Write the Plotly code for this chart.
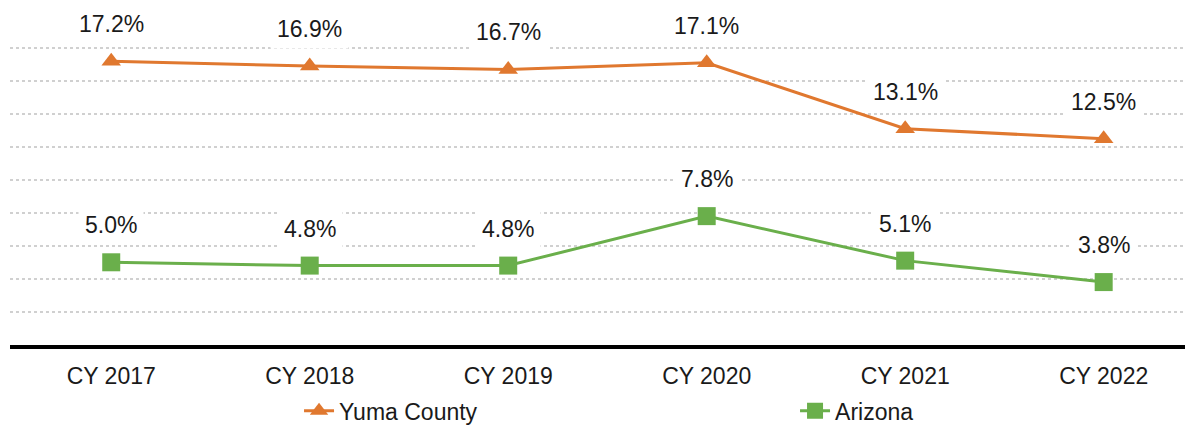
"""Yuma County vs Arizona - lijngrafiek met datalabels."""

import plotly.graph_objects as go

years = ["CY 2017", "CY 2018", "CY 2019", "CY 2020", "CY 2021", "CY 2022"]
yuma = [17.2, 16.9, 16.7, 17.1, 13.1, 12.5]
arizona = [5.0, 4.8, 4.8, 7.8, 5.1, 3.8]

ORANGE = "#E0782F"
GREEN = "#6AAF4B"
FONT = "Liberation Sans, Arial, sans-serif"
TXT = "#1a1a1a"

fig = go.Figure()

fig.add_trace(go.Scatter(
    x=years, y=yuma, name="Yuma County", mode="lines+markers",
    line=dict(color=ORANGE, width=3),
    marker=dict(symbol="triangle-up", size=17, color=ORANGE),
    cliponaxis=False,
))
fig.add_trace(go.Scatter(
    x=years, y=arizona, name="Arizona", mode="lines+markers",
    line=dict(color=GREEN, width=3),
    marker=dict(symbol="square", size=18, color=GREEN),
    cliponaxis=False,
))

# --- Datalabels met witte achtergrond ---
for series in (yuma, arizona):
    for x, v in zip(years, series):
        fig.add_annotation(
            x=x, y=v, text=f"{v:.1f}%", showarrow=False,
            yshift=37, bgcolor="white", borderpad=6,
            font=dict(family=FONT, size=23, color=TXT),
        )

# body heeft 8px marge in de pagina, daarom iets kleiner dan het venster
fig.update_layout(
    width=1185, height=417,
    margin=dict(l=2, r=0, t=7, b=75),
    plot_bgcolor="white", paper_bgcolor="white",
    font=dict(family=FONT, size=23, color=TXT),
    showlegend=True,
    legend=dict(
        orientation="h", xref="container", yref="container",
        x=0.2456, y=0.034, xanchor="left", yanchor="middle",
        entrywidth=451, font=dict(size=23, color=TXT),
    ),
)
fig.update_xaxes(
    type="category", range=[-0.51, 5.45],
    showgrid=False, showline=True, linecolor="black", linewidth=4,
    ticks="outside", ticklen=8, tickcolor="rgba(0,0,0,0)",
    tickfont=dict(size=23, color=TXT),
)
fig.update_yaxes(
    range=[0, 20], dtick=2, showticklabels=False, zeroline=False,
    showgrid=True, gridcolor="#d0d0d0", griddash="dot", gridwidth=1.5,
)

fig.write_html("out.html")
